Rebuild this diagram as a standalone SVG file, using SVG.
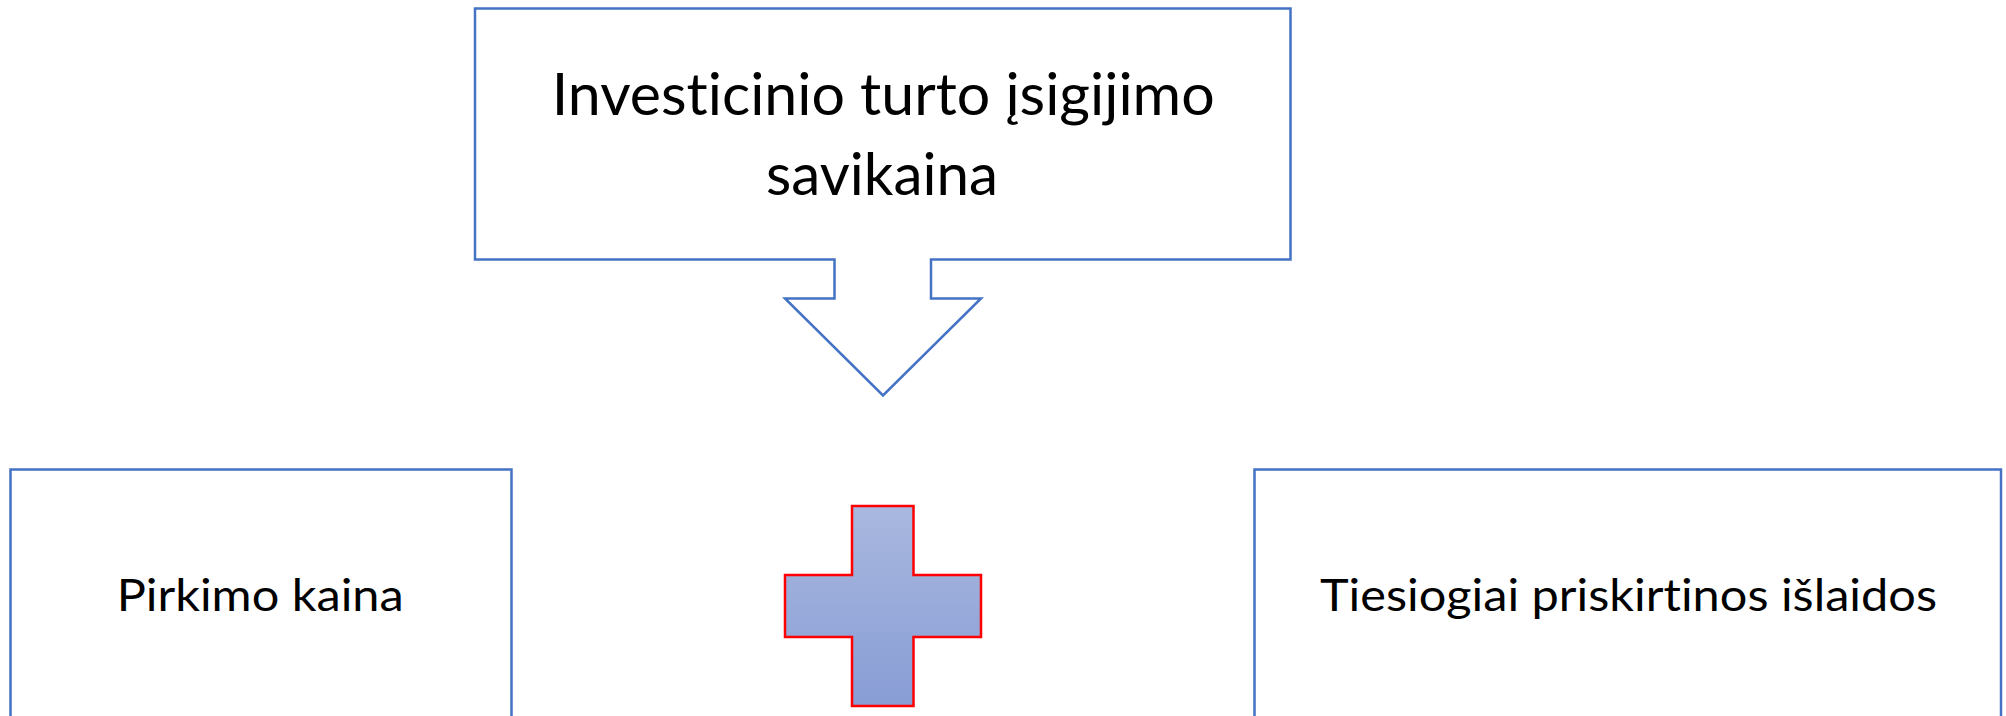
<svg xmlns="http://www.w3.org/2000/svg" width="2006" height="716" viewBox="0 0 2006 716">
<style>
.box{fill:#ffffff;stroke:#4472C4;stroke-width:2.5}
.plus{stroke:#FF0000;stroke-width:2.5}
.t{font-family:Lato,"Liberation Sans",sans-serif;fill:#000000;font-variant-ligatures:none}
</style>
<defs>
<linearGradient id="pg" x1="0" y1="0" x2="0" y2="1">
<stop offset="0" stop-color="#A9B8DF"/>
<stop offset="1" stop-color="#889DD5"/>
</linearGradient>
</defs>
<rect width="2006" height="716" fill="#ffffff"/>
<g id="top-callout">
<path class="box" d="M475,8.5 H1290.5 V259.5 H931 V298.5 H981 L883,395.5 L785,298.5 H834.5 V259.5 H475 Z"/>
<text class="t" x="551.7" y="115" font-size="58.5" textLength="663" lengthAdjust="spacingAndGlyphs">Investicinio turto įsigijimo</text>
<text class="t" x="766" y="195" font-size="58.5" textLength="232" lengthAdjust="spacingAndGlyphs">savikaina</text>
</g>
<g id="left-box">
<rect class="box" x="10.5" y="469.5" width="501" height="270"/>
<text class="t" x="116.7" y="611" font-size="44.5" textLength="287" lengthAdjust="spacingAndGlyphs">Pirkimo kaina</text>
</g>
<g id="plus">
<path class="plus" fill="url(#pg)" d="M852,506 H913.5 V575 H981 V637 H913.5 V706 H852 V637 H785 V575 H852 Z"/>
</g>
<g id="right-box">
<rect class="box" x="1254.5" y="469.5" width="746.5" height="270"/>
<text class="t" x="1320" y="611" font-size="44.5" textLength="617" lengthAdjust="spacingAndGlyphs">Tiesiogiai priskirtinos išlaidos</text>
</g>
<g id="connectors"></g>
</svg>
